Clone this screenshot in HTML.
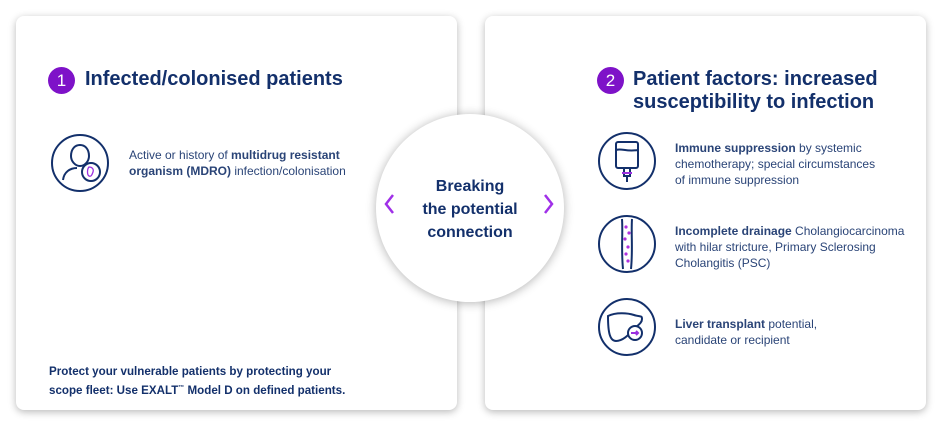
<!DOCTYPE html>
<html><head><meta charset="utf-8"><style>
body{margin:0;width:940px;height:426px;background:#fff;position:relative;overflow:hidden;font-family:"Liberation Sans",sans-serif;color:#13306b}
.card{position:absolute;top:16px;height:394px;background:#fff;border-radius:8px;box-shadow:0 2px 8px rgba(0,0,0,.28)}
.t{position:absolute;white-space:nowrap}
.h{font-size:20px;font-weight:bold;color:#13306b;line-height:23px}
.p{font-size:12px;line-height:16px;color:#2a4477}
.num{position:absolute;width:27px;height:27px;border-radius:50%;background:#7e12c8;color:#fff;font-size:17px;text-align:center;line-height:27px}
.ic{position:absolute;width:58px;height:58px;border:2px solid #13306b;border-radius:50%;box-sizing:border-box}
</style></head><body>
<div class="card" style="left:16px;width:441px"></div>
<div class="card" style="left:485px;width:441px"></div>

<div class="num" style="left:48px;top:67px">1</div>
<div class="t h" style="left:85px;top:68px">Infected/colonised patients</div>
<div class="ic" style="left:51px;top:134px"><svg width="54" height="54" viewBox="0 0 54 54" fill="none" stroke="#13306b" stroke-width="2"><path d="M18 20c0-7 4-11 9-11s9 4 9 11c0 5-4 10-9 10s-9-5-9-10z"/><path d="M10 44c1-8 7-12 14-12"/><circle cx="38" cy="36" r="9" fill="#fff"/><path d="M36 31c3 0 5 2 4 5s-2 5-4 4-2-7 0-9z" stroke="#9b30e0" stroke-width="1.3"/></svg></div>
<div class="t p" style="left:129px;top:147px">Active or history of <b>multidrug resistant</b><br><b>organism (MDRO)</b> infection/colonisation</div>
<div class="t p" style="left:49px;top:364px;font-weight:bold;color:#13306b;font-size:11.6px;line-height:16px">Protect your vulnerable patients by protecting your<br>scope fleet: Use EXALT<sup style="font-size:6px">™</sup> Model D on defined patients.</div>

<div class="num" style="left:597px;top:67px">2</div>
<div class="t h" style="left:633px;top:68px">Patient factors: increased<br>susceptibility to infection</div>
<div class="ic" style="left:598px;top:132px"><svg width="54" height="54" viewBox="0 0 54 54" fill="none" stroke="#13306b" stroke-width="2"><rect x="16" y="8" width="22" height="26" rx="2"/><path d="M16 16c6-2 10 2 22 0"/><path d="M24 34h6v8h-6zM27 42v6"/><path d="M22 39h10" stroke="#9b30e0"/></svg></div>
<div class="t p" style="left:675px;top:140px"><b>Immune suppression</b> by systemic<br>chemotherapy; special circumstances<br>of immune suppression</div>
<div class="ic" style="left:598px;top:215px"><svg width="54" height="54" viewBox="0 0 54 54" fill="none" stroke="#13306b" stroke-width="2"><path d="M22 2c1 15-1 30 1 50M32 2c-1 15 1 30-1 50"/><g fill="#b030e0" stroke="none"><circle cx="26" cy="10" r="1.6"/><circle cx="29" cy="16" r="1.6"/><circle cx="25" cy="22" r="1.6"/><circle cx="28" cy="30" r="1.6"/><circle cx="26" cy="37" r="1.6"/><circle cx="28" cy="44" r="1.6"/></g></svg></div>
<div class="t p" style="left:675px;top:223px"><b>Incomplete drainage</b> Cholangiocarcinoma<br>with hilar stricture, Primary Sclerosing<br>Cholangitis (PSC)</div>
<div class="ic" style="left:598px;top:298px"><svg width="54" height="54" viewBox="0 0 54 54" fill="none" stroke="#13306b" stroke-width="2"><path d="M8 16c8-4 20-3 26-1s8 0 8 4-4 6-8 10-10 12-18 12c-6 0-8-8-8-25z"/><circle cx="35" cy="33" r="7" fill="#fff"/><path d="M31 33h7M36 31l2 2-2 2" stroke="#9b30e0"/></svg></div>
<div class="t p" style="left:675px;top:316px"><b>Liver transplant</b> potential,<br>candidate or recipient</div>

<div style="position:absolute;left:376px;top:114px;width:188px;height:188px;border-radius:50%;background:#fff;box-shadow:0 1px 10px rgba(0,0,0,.3)"></div>
<div class="t" style="left:400px;top:175px;width:140px;text-align:center;font-size:16px;font-weight:bold;line-height:23px;color:#13306b">Breaking<br>the potential<br>connection</div>
<svg style="position:absolute;left:382px;top:192px" width="14" height="24"><path d="M11 3L4 12l7 9" fill="none" stroke="#a030e8" stroke-width="2.5"/></svg>
<svg style="position:absolute;left:542px;top:192px" width="14" height="24"><path d="M3 3l7 9-7 9" fill="none" stroke="#a030e8" stroke-width="2.5"/></svg>
</body></html>
